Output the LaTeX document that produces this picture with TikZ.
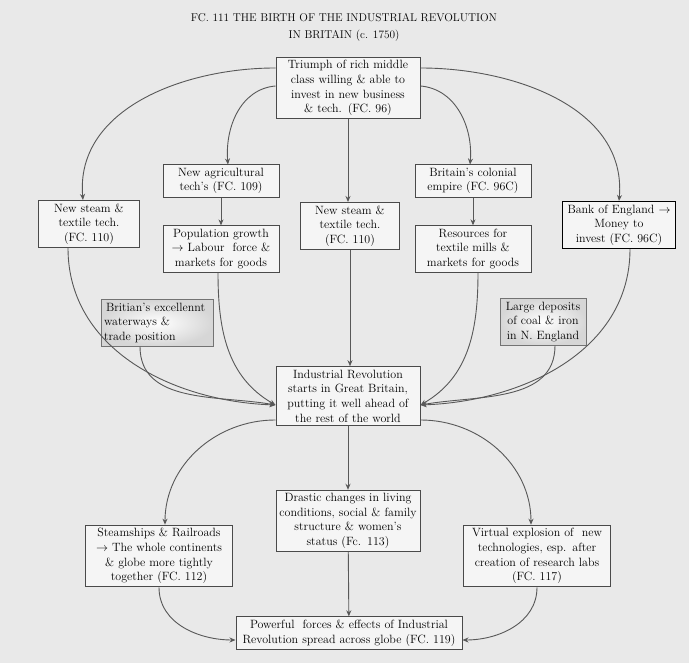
\documentclass[tikz,border=0pt]{standalone}
\usepackage{fontspec}
\usepackage{tikz}
\usetikzlibrary{arrows.meta}
\definecolor{bgcol}{HTML}{E9E9E9}
\definecolor{boxcol}{HTML}{F5F5F5}
\definecolor{edgecol}{HTML}{4A4A4A}
\definecolor{linecol}{HTML}{585858}

\begin{document}
\begin{tikzpicture}[x=1pt,y=1pt,
  box/.style={draw=edgecol,line width=1pt,fill=boxcol,inner sep=3pt,align=center,
    font=\fontsize{12}{14.7}\selectfont},
  shadebox/.style={box,draw=black!55,fill=none,inner color=white,outer color=black!16},
  flow/.style={draw=linecol,line width=0.9pt,-{Stealth[length=6pt,width=5pt]}}]
\fill[bgcol] (0,0) rectangle (689,663);
\node[align=center,font=\fontsize{11.3}{17}\selectfont] (title) at (344,636)
  {FC. 111 THE BIRTH OF THE INDUSTRIAL REVOLUTION\\IN BRITAIN (c. 1750)};
\node[box,text width=138pt] (top) at (348,575)
  {Triumph of rich middle\\ class willing \& able to\\ invest in new business\\ \& tech. (FC. 96)};
\node[box,text width=110pt] (agri) at (221,482) {New agricultural\\ tech's (FC. 109)};
\node[box,text width=110pt] (colony) at (473,482) {Britain's colonial\\ empire (FC. 96C)};
\node[box,text width=95pt] (steamL) at (89,439) {New steam \&\\ textile tech.\\ (FC. 110)};
\node[box,text width=93pt] (steamM) at (350,437) {New steam \&\\ textile tech.\\ (FC. 110)};
\node[box,draw=black,line width=1.3pt,text width=107pt] (bank) at (619,438)
  {Bank of England $\rightarrow$\\ Money to\\ invest (FC. 96C)};
\node[box,text width=110pt] (pop) at (221,414)
  {Population growth\\ $\rightarrow$ Labour~ force \&\\ markets for goods};
\node[box,text width=110pt] (res) at (473,414)
  {Resources for\\ textile mills \&\\ markets for goods};
\node[shadebox,align=left,text width=106pt] (water) at (157,340)
  {\,Britian's excellennt\\ waterways \&\\ trade position};
\node[shadebox,text width=80pt] (coal) at (543,341)
  {Large deposits\\ of coal \& iron\\ in N. England};
\node[box,text width=138pt] (ir) at (348,267)
  {Industrial Revolution\\ starts in Great Britain,\\ putting it well ahead of\\ the rest of the world};
\node[box,text width=138pt] (drastic) at (348,142)
  {Drastic changes in living\\ conditions, social \& family\\ structure \& women's\\ status (Fc. 113)};
\node[box,text width=141pt] (ship) at (159,107)
  {Steamships \& Railroads\\ $\rightarrow$ The whole continents\\ \& globe more tightly\\ together (FC. 112)};
\node[box,text width=141pt] (virt) at (537,107)
  {Virtual explosion of~ new\\ technologies, esp. after\\ creation of research labs\\ (FC. 117)};
\node[box,text width=220pt] (power) at (349,30)
  {Powerful~ forces \& effects of Industrial\\ Revolution spread across globe (FC. 119)};
\draw[flow] ([yshift=20pt]top.west) to[out=180,in=95] ([xshift=-6pt]steamL.north);
\draw[flow] ([yshift=2pt]top.west) to[out=185,in=95] ([xshift=7pt]agri.north);
\draw[flow] (top.south) -- (top.south |- steamM.north);
\draw[flow] ([yshift=2pt]top.east) to[out=-5,in=85] ([xshift=-3pt]colony.north);
\draw[flow] ([yshift=20pt]top.east) to[out=0,in=85] (bank.north);
\draw[flow] (agri) -- (pop);
\draw[flow] (colony) -- (res);
\draw[flow] ([xshift=-21pt]steamL.south) to[out=-90,in=178] ([yshift=-9pt]ir.west);
\draw[flow] ([xshift=-17pt]water.south) to[out=-90,in=170] ([yshift=-9pt]ir.west);
\draw[flow] ([xshift=-3pt]pop.south) to[out=-90,in=150] ([yshift=-9pt]ir.west);
\draw[flow] (steamM.south) -- (steamM.south |- ir.north);
\draw[flow] ([xshift=5pt]res.south) to[out=-90,in=30] ([yshift=-9pt]ir.east);
\draw[flow] ([xshift=12pt]coal.south) to[out=-90,in=10] ([yshift=-9pt]ir.east);
\draw[flow] ([xshift=11pt]bank.south) to[out=-90,in=2] ([yshift=-9pt]ir.east);
\draw[flow] ([yshift=-24pt]ir.west) to[out=180,in=90] ([xshift=6pt]ship.north);
\draw[flow] (ir) -- (drastic);
\draw[flow] ([yshift=-24pt]ir.east) to[out=0,in=90] ([xshift=-6pt]virt.north);
\draw[flow] (drastic) -- (power);
\draw[flow] (ship.south) to[out=-90,in=180] ([yshift=-7pt]power.west);
\draw[flow] (virt.south) to[out=-90,in=0] ([yshift=-7pt]power.east);
\end{tikzpicture}
\end{document}
